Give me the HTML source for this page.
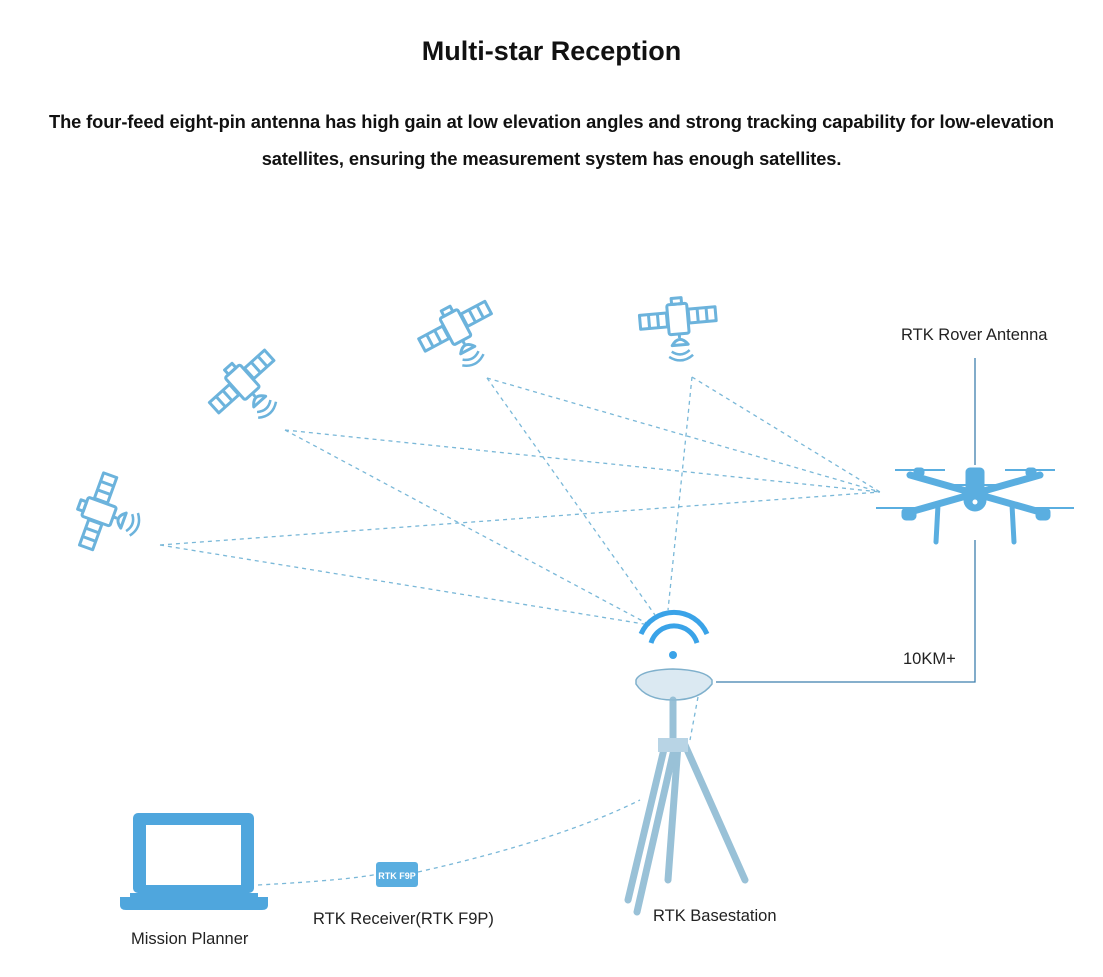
<!DOCTYPE html>
<html><head><meta charset="utf-8"><style>
body{margin:0;background:#fff;width:1103px;height:977px;overflow:hidden;font-family:"Liberation Sans",sans-serif;}
.t{position:absolute;left:0;width:1103px;text-align:center;color:#111;}
.l{position:absolute;font-size:16.5px;color:#222;}
</style></head><body>
<div class="t" style="top:36px;font-size:27px;font-weight:bold;">Multi-star Reception</div>
<div class="t" style="top:103px;font-size:18.3px;line-height:37px;font-weight:bold;letter-spacing:-0.1px;">The four-feed eight-pin antenna has high gain at low elevation angles and strong tracking capability for low-elevation<br>satellites, ensuring the measurement system has enough satellites.</div>
<svg width="1103" height="977" style="position:absolute;left:0;top:0">
<defs>
<g id="sat" fill="none" stroke="#6cb3dc" stroke-width="3" stroke-linejoin="round">
<rect x="-10" y="-16" width="20" height="30" rx="2"/>
<rect x="-5" y="-22" width="10" height="6"/>
<rect x="-38" y="-8" width="27" height="14"/><line x1="-29" y1="-8" x2="-29" y2="6"/><line x1="-20" y1="-8" x2="-20" y2="6"/>
<rect x="11" y="-10" width="27" height="14"/><line x1="20" y1="-10" x2="20" y2="4"/><line x1="29" y1="-10" x2="29" y2="4"/>
<path d="M-8 25 Q0 14 8 25 Z M0 14 V18"/>
<path d="M-9 31 Q0 38 9 31 M-12 36 Q0 45 12 36" stroke-width="2.5"/>
</g>
</defs>
<g stroke="#7ab8d8" stroke-width="1.3" stroke-dasharray="4,4" fill="none">
<line x1="160" y1="545" x2="880" y2="492"/><line x1="160" y1="545" x2="650" y2="625"/>
<line x1="285" y1="430" x2="880" y2="492"/><line x1="285" y1="430" x2="650" y2="625"/>
<line x1="487" y1="378" x2="880" y2="492"/><line x1="487" y1="378" x2="655" y2="615"/>
<line x1="692" y1="377" x2="880" y2="492"/><line x1="692" y1="377" x2="668" y2="610"/>
<path d="M258 885 Q350 880 378 874"/><path d="M418 872 Q560 840 640 800"/>
<path d="M698 697 L690 740"/>
</g>
<use href="#sat" transform="translate(100,512) rotate(-70)"/>
<use href="#sat" transform="translate(243,383) rotate(-42)"/>
<use href="#sat" transform="translate(456,328) rotate(-28)"/>
<use href="#sat" transform="translate(678,320) rotate(-5)"/>
<g stroke="#3e7fae" stroke-width="1.3" fill="none">
<polyline points="716,682 975,682 975,540"/>
<line x1="975" y1="358" x2="975" y2="465"/>
</g>
<g fill="none" stroke="#3aa3e8" stroke-width="5">
<path d="M641 634 A36 36 0 0 1 707 634"/>
<path d="M651 643 A24 24 0 0 1 697 643"/>
</g>
<circle cx="673" cy="655" r="4" fill="#3aa3e8"/>
<path d="M636 680 Q640 670 673 669 Q706 670 712 680 L712 684 Q700 700 673 700 Q646 700 636 684 Z" fill="#dbe9f2" stroke="#7fb0cc" stroke-width="1.5"/>
<g stroke="#8fbbd3" stroke-width="7" stroke-linecap="round" fill="none" opacity="0.9">
<line x1="673" y1="700" x2="673" y2="745"/>
<line x1="665" y1="745" x2="628" y2="900"/>
<line x1="675" y1="745" x2="637" y2="912"/>
<line x1="678" y1="745" x2="668" y2="880"/>
<line x1="685" y1="745" x2="745" y2="880"/>
</g>
<rect x="658" y="738" width="30" height="14" fill="#b8d4e5"/>
<g fill="#5aaee0" stroke="#5aaee0">
<line x1="910" y1="475" x2="1040" y2="512" stroke-width="7" stroke-linecap="round"/>
<line x1="1040" y1="475" x2="910" y2="512" stroke-width="7" stroke-linecap="round"/>
<rect x="966" y="468" width="18" height="38" rx="4"/>
<circle cx="975" cy="500" r="11"/>
<line x1="895" y1="470" x2="945" y2="470" stroke-width="2"/>
<line x1="1005" y1="470" x2="1055" y2="470" stroke-width="2"/>
<line x1="876" y1="508" x2="925" y2="508" stroke-width="2"/>
<line x1="1025" y1="508" x2="1074" y2="508" stroke-width="2"/>
<rect x="902" y="508" width="14" height="12" rx="4"/><rect x="1036" y="508" width="14" height="12" rx="4"/>
<rect x="914" y="468" width="10" height="8" rx="3"/><rect x="1026" y="468" width="10" height="8" rx="3"/>
<line x1="938" y1="505" x2="936" y2="542" stroke-width="5" stroke-linecap="round"/>
<line x1="1012" y1="505" x2="1014" y2="542" stroke-width="5" stroke-linecap="round"/>
<line x1="940" y1="485" x2="1010" y2="485" stroke-width="2"/>
</g>
<circle cx="975" cy="502" r="2.5" fill="#fff"/>
<rect x="133" y="813" width="121" height="80" rx="5" fill="#4fa6dd"/>
<rect x="146" y="825" width="95" height="60" fill="#fff"/>
<path d="M120 897 H268 V905 Q268 910 262 910 H126 Q120 910 120 905 Z" fill="#4fa6dd"/>
<rect x="130" y="893" width="128" height="5" fill="#4fa6dd"/>
<rect x="376" y="862" width="42" height="25" rx="3" fill="#5aaee0"/>
<text x="397" y="879" font-size="9" font-weight="bold" fill="#fff" text-anchor="middle" font-family="Liberation Sans,sans-serif">RTK F9P</text>
</svg>
<div class="l" style="left:901px;top:326px;">RTK Rover Antenna</div>
<div class="l" style="left:903px;top:650px;">10KM+</div>
<div class="l" style="left:653px;top:907px;">RTK Basestation</div>
<div class="l" style="left:313px;top:910px;">RTK Receiver(RTK F9P)</div>
<div class="l" style="left:131px;top:930px;">Mission Planner</div>
</body></html>
